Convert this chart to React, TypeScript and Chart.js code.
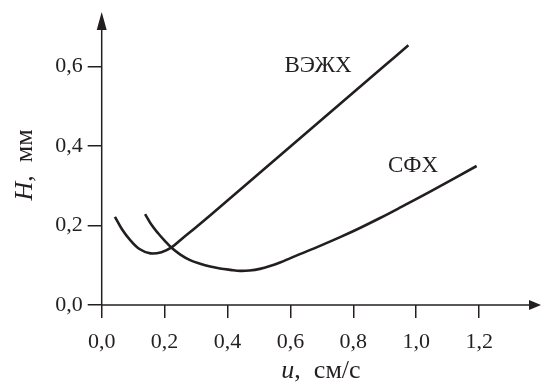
import React, { useEffect, useRef } from "react";
import { Chart, registerables } from "chart.js";

Chart.register(...registerables);

// ---- data ----
const xTicks = [0, 0.2, 0.4, 0.6, 0.8, 1.0, 1.2];
const yTicks = [0, 0.2, 0.4, 0.6];

const seriesNames = ["ВЭЖХ", "СФХ"];

const hplcX = [0.042, 0.065, 0.09, 0.12, 0.155, 0.19, 0.222, 0.26, 0.3, 0.4, 0.5, 0.6, 0.7, 0.8, 0.9, 0.975];
const hplcY = [0.222, 0.19, 0.164, 0.141, 0.13, 0.133, 0.145, 0.17, 0.196, 0.263, 0.331, 0.399, 0.467, 0.535, 0.603, 0.654];

const sfcX = [0.138, 0.16, 0.18, 0.2, 0.222, 0.25, 0.281, 0.313, 0.345, 0.376, 0.41, 0.44, 0.47, 0.503, 0.535, 0.567, 0.6, 0.63, 0.694, 0.758, 0.821, 0.885, 0.948, 1.05, 1.192];
const sfcY = [0.229, 0.2, 0.18, 0.162, 0.144, 0.127, 0.113, 0.104, 0.097, 0.092, 0.0885, 0.086, 0.087, 0.091, 0.098, 0.107, 0.118, 0.128, 0.149, 0.171, 0.194, 0.219, 0.245, 0.288, 0.35];

const labelX = [0.688, 0.99];
const labelY = [0.602, 0.35];

const xTitleItalic = "u";
const xTitleRest = ",  см/с";
const yTitleItalic = "H";
const yTitleRest = ",  мм";

// ---- style ----
const INK = "#231f20";
const FONT = "'Liberation Serif', 'Times New Roman', serif";
const fmt = (v: number) => v.toFixed(1).replace(".", ",");

const decor = {
  id: "decor",
  afterDraw(chart: any) {
    const { ctx, scales } = chart;
    const x0 = scales.x.getPixelForValue(0);
    const y0 = scales.y.getPixelForValue(0);
    const W = chart.width;
    ctx.save();
    ctx.strokeStyle = INK;
    ctx.fillStyle = INK;
    ctx.lineWidth = 1.5;
    // x axis with arrow
    ctx.beginPath();
    ctx.moveTo(x0, y0);
    ctx.lineTo(W - 10, y0);
    ctx.stroke();
    ctx.beginPath();
    ctx.moveTo(W, y0);
    ctx.lineTo(W - 12, y0 - 5);
    ctx.lineTo(W - 12, y0 + 5);
    ctx.closePath();
    ctx.fill();
    // y axis with arrow
    ctx.beginPath();
    ctx.moveTo(x0, y0);
    ctx.lineTo(x0, 26);
    ctx.stroke();
    ctx.beginPath();
    ctx.moveTo(x0, 12);
    ctx.lineTo(x0 - 5, 30);
    ctx.lineTo(x0 + 5, 30);
    ctx.closePath();
    ctx.fill();

    // series labels
    ctx.font = `23px ${FONT}`;
    ctx.textAlign = "center";
    ctx.textBaseline = "middle";
    seriesNames.forEach((n, i) => {
      ctx.fillText(n, scales.x.getPixelForValue(labelX[i]), scales.y.getPixelForValue(labelY[i]));
    });

    // x title
    ctx.textAlign = "left";
    ctx.textBaseline = "alphabetic";
    const it = `italic 26px ${FONT}`;
    const nm = `26px ${FONT}`;
    ctx.font = it;
    const w1 = ctx.measureText(xTitleItalic).width;
    ctx.font = nm;
    const w2 = ctx.measureText(xTitleRest).width;
    const sx = 321 - (w1 + w2) / 2;
    ctx.font = it;
    ctx.fillText(xTitleItalic, sx, 378);
    ctx.font = nm;
    ctx.fillText(xTitleRest, sx + w1, 378);

    // y title
    ctx.translate(32, 165);
    ctx.rotate(-Math.PI / 2);
    ctx.font = it;
    const v1 = ctx.measureText(yTitleItalic).width;
    ctx.font = nm;
    const v2 = ctx.measureText(yTitleRest).width;
    const sy = -(v1 + v2) / 2;
    ctx.font = it;
    ctx.fillText(yTitleItalic, sy, 0);
    ctx.font = nm;
    ctx.fillText(yTitleRest, sy + v1, 0);
    ctx.restore();
  },
};

export default function App() {
  const ref = useRef<HTMLCanvasElement | null>(null);
  useEffect(() => {
    document.body.style.margin = "0";
    const canvas = ref.current;
    if (!canvas) return;
    const line = (xs: number[], ys: number[]) => ({
      data: xs.map((x, i) => ({ x, y: ys[i] })),
      showLine: true,
      borderColor: INK,
      borderWidth: 2.6,
      pointRadius: 0,
      tension: 0.35,
      fill: false,
    });
    const chart = new Chart(canvas, {
      type: "scatter",
      data: {
        datasets: [
          { label: seriesNames[0], ...line(hplcX, hplcY) },
          { label: seriesNames[1], ...line(sfcX, sfcY) },
        ],
      },
      options: {
        responsive: false,
        devicePixelRatio: 1,
        animation: false,
        layout: { padding: { top: 27, right: 30.4, left: 0, bottom: 0 } },
        plugins: { legend: { display: false }, tooltip: { enabled: false } },
        scales: {
          x: {
            type: "linear",
            min: 0,
            max: 1.3,
            afterBuildTicks: (s: any) => {
              s.ticks = xTicks.map((v) => ({ value: v }));
            },
            afterFit: (s: any) => {
              s.height = 82;
            },
            ticks: {
              callback: (v: any) => fmt(Number(v)),
              font: { family: FONT, size: 22 },
              color: INK,
              padding: 11,
              maxRotation: 0,
              autoSkip: false,
            },
            grid: {
              drawOnChartArea: false,
              tickLength: 13,
              color: INK,
              lineWidth: 1.5,
            },
            border: { display: false },
          },
          y: {
            type: "linear",
            min: 0,
            max: 0.7,
            afterBuildTicks: (s: any) => {
              s.ticks = yTicks.map((v) => ({ value: v }));
            },
            afterFit: (s: any) => {
              s.width = 101.7;
            },
            ticks: {
              callback: (v: any) => fmt(Number(v)),
              font: { family: FONT, size: 22 },
              color: INK,
              padding: 5,
              autoSkip: false,
            },
            grid: {
              drawOnChartArea: false,
              tickLength: 14,
              color: INK,
              lineWidth: 1.5,
            },
            border: { display: false },
          },
        },
      },
      plugins: [decor],
    });
    return () => chart.destroy();
  }, []);
  return (
    <div style={{ width: 541, height: 387, background: "#fff" }}>
      <canvas ref={ref} width={541} height={387} style={{ display: "block" }} />
    </div>
  );
}
